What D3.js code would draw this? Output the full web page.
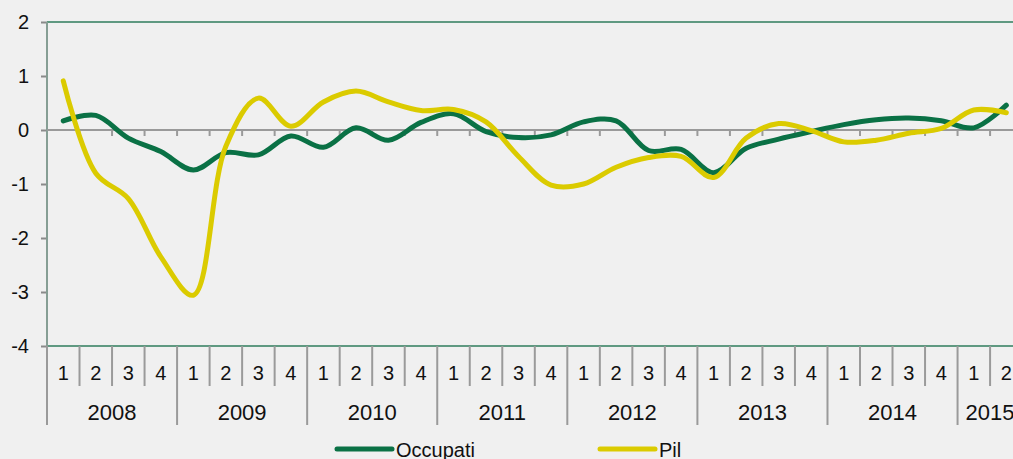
<!DOCTYPE html>
<html><head><meta charset="utf-8">
<script src="https://cdn.jsdelivr.net/npm/d3@7"></script>
<style>
html,body{margin:0;padding:0;background:#f0f0f0;}
svg{display:block;}
text{font-family:"Liberation Sans",Arial,sans-serif;fill:#111;}
</style></head><body>
<svg id="c" width="1013" height="459"></svg>
<script>
const years = ["2008","2009","2010","2011","2012","2013","2014","2015"];
const quarters = ["1","2","3","4"];
const yTicks = [2,1,0,-1,-2,-3,-4];
const occupati = [0.17,0.27,-0.15,-0.40,-0.74,-0.42,-0.46,-0.11,-0.32,0.04,-0.19,0.14,0.30,-0.03,-0.14,-0.09,0.15,0.17,-0.38,-0.36,-0.79,-0.34,-0.17,-0.03,0.10,0.19,0.22,0.17,0.04,0.46];
const pil = [0.91,-0.80,-1.27,-2.35,-3.06,-0.30,0.59,0.07,0.52,0.72,0.52,0.36,0.38,0.15,-0.49,-1.02,-1.00,-0.69,-0.51,-0.49,-0.88,-0.15,0.12,-0.01,-0.22,-0.19,-0.06,0.03,0.37,0.32];
const seriesNames = ["Occupati","Pil"];
const seriesColors = ["#0a7145","#dbcb00"];

(function(){
const cats = [];
years.forEach(yr => quarters.forEach(q => cats.push(yr + "-" + q)));
const cats30 = cats.slice(0, occupati.length);

const svg = d3.select("#c");
const pL = 47, pT = 22, pB = 346;
const bandW = 32.52;
const pR = pL + bandW * cats30.length;
const x = d3.scaleBand().domain(cats30).range([pL, pR]).paddingInner(0).paddingOuter(0);
const y = d3.scaleLinear().domain([-4, 2]).range([pB, pT]);

// top and bottom borders
svg.append("line").attr("x1", pL).attr("x2", pR).attr("y1", y(2)).attr("y2", y(2))
  .attr("stroke", "#2f7d5c").attr("stroke-width", 1.5);
svg.append("line").attr("x1", pL).attr("x2", pR).attr("y1", y(-4)).attr("y2", y(-4))
  .attr("stroke", "#2f7d5c").attr("stroke-width", 1.5);

// y axis
const yAxis = svg.append("g").attr("transform", `translate(${pL},0)`)
  .call(d3.axisLeft(y).tickValues(yTicks).tickSize(6).tickPadding(12).tickFormat(d => String(d)));
yAxis.select(".domain").remove();
yAxis.selectAll(".tick line").attr("stroke", "#8a8a8a").attr("stroke-width", 2);
yAxis.selectAll("text").style("font-size", "20px").attr("fill", "#111").style("font-family", "Liberation Sans, Arial, sans-serif");
svg.append("line").attr("x1", pL).attr("x2", pL).attr("y1", pT).attr("y2", pB)
  .attr("stroke", "#869e94").attr("stroke-width", 2);

// zero line with ticks
svg.append("line").attr("x1", pL).attr("x2", pR).attr("y1", y(0)).attr("y2", y(0))
  .attr("stroke", "#9a9a9a").attr("stroke-width", 2);
const bounds = d3.range(1, cats30.length).map(i => x(cats30[i]));
svg.append("g").selectAll("line").data(bounds).join("line")
  .attr("x1", d => d).attr("x2", d => d).attr("y1", y(0)).attr("y2", y(0) + 6)
  .attr("stroke", "#9a9a9a").attr("stroke-width", 2);

// category axis below
const catBounds = d3.range(0, cats30.length + 1).map(i => pL + bandW * i);
svg.append("g").selectAll("line").data(catBounds).join("line")
  .attr("x1", d => d).attr("x2", d => d)
  .attr("y1", pB)
  .attr("y2", (d, i) => i % 4 === 0 ? 425 : 386)
  .attr("stroke", "#9a9a9a").attr("stroke-width", 2);

svg.append("g").selectAll("text").data(cats30).join("text")
  .attr("x", d => x(d) + x.bandwidth() / 2)
  .attr("y", 380)
  .attr("text-anchor", "middle")
  .style("font-size", "20px")
  .text(d => d.split("-")[1]);

svg.append("g").selectAll("text").data(years).join("text")
  .attr("x", d => {
    const first = cats30.indexOf(d + "-1");
    const n = cats30.filter(c => c.startsWith(d)).length;
    return pL + bandW * first + bandW * n / 2;
  })
  .attr("y", 420)
  .attr("text-anchor", "middle")
  .style("font-size", "22px")
  .text(d => d);

// lines
const line = d3.line()
  .x((d, i) => x(cats30[i]) + x.bandwidth() / 2)
  .y(d => y(d))
  .curve(d3.curveCatmullRom.alpha(0.5));

[occupati, pil].forEach((s, k) => {
  svg.append("path").datum(s).attr("d", line)
    .attr("fill", "none").attr("stroke", seriesColors[k])
    .attr("stroke-width", 5).attr("stroke-linecap", "round").attr("stroke-linejoin", "round");
});

// legend
const legendX = [337, 600];
seriesNames.forEach((n, k) => {
  svg.append("line").attr("x1", legendX[k]).attr("x2", legendX[k] + 55)
    .attr("y1", 449).attr("y2", 449)
    .attr("stroke", seriesColors[k]).attr("stroke-width", 5).attr("stroke-linecap", "round");
  svg.append("text").attr("x", legendX[k] + 59).attr("y", 457)
    .style("font-size", "20px").text(n);
});
})();
</script>
</body></html>
